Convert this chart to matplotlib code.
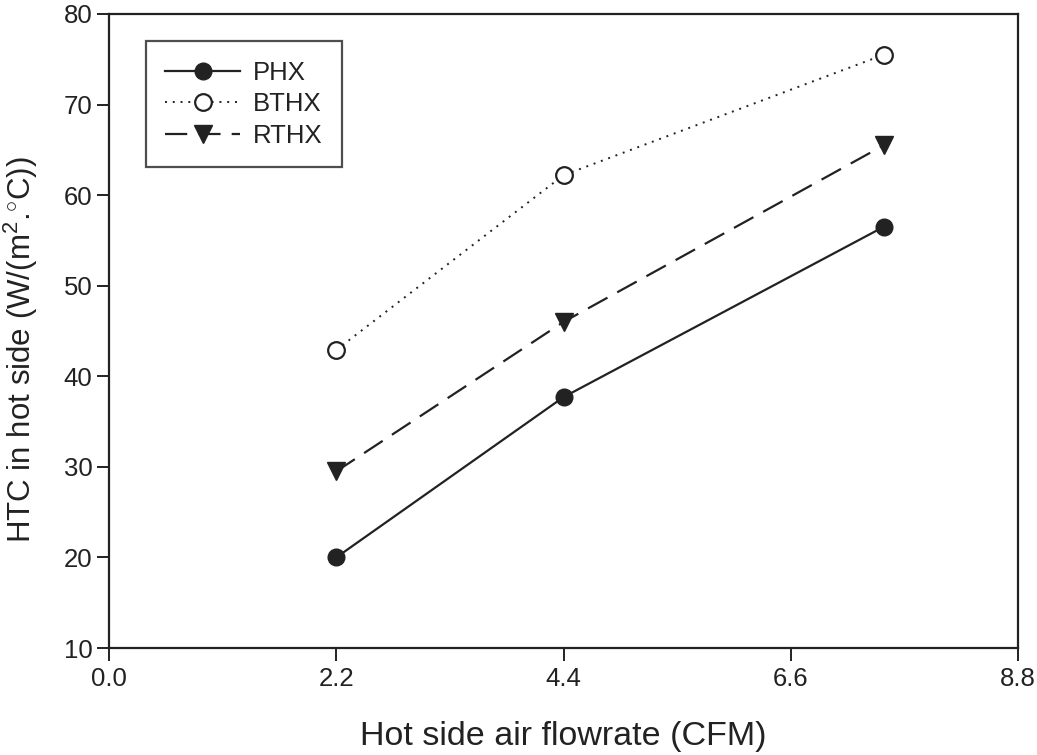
import matplotlib
matplotlib.use("Agg")
import matplotlib.pyplot as plt

# Hot side heat transfer coefficient vs. air flowrate
flowrate = [2.2, 4.4, 7.5]
phx = [20.0, 37.7, 56.5]
bthx = [42.9, 62.2, 75.5]
rthx = [29.5, 46.0, 65.5]

xticks = [0.0, 2.2, 4.4, 6.6, 8.8]
yticks = [10, 20, 30, 40, 50, 60, 70, 80]

plt.rcParams["font.family"] = ["Liberation Sans", "DejaVu Sans"]
plt.rcParams["mathtext.fontset"] = "custom"
plt.rcParams["mathtext.rm"] = "Liberation Sans"
plt.rcParams["mathtext.it"] = "Liberation Sans:italic"

fig = plt.figure(figsize=(10.37, 7.55), dpi=100)
ax = fig.add_axes([0.1051, 0.1417, 0.8766, 0.8398])

col = "#222222"
ax.plot(flowrate, phx, color=col, lw=1.6, ls="-", marker="o", ms=12,
        mfc=col, mec=col, label="PHX")
ax.plot(flowrate, bthx, color=col, lw=1.4, ls=(0, (1, 3)), marker="o", ms=12,
        mfc="white", mec=col, mew=1.6, label="BTHX")
ax.plot(flowrate, rthx, color=col, lw=1.6, ls=(0, (10, 5)), marker="v", ms=13,
        mfc=col, mec=col, label="RTHX")

ax.set_xlim(0, 8.8)
ax.set_ylim(10, 80)
ax.set_xticks(xticks)
ax.set_xticklabels([f"{v:.1f}" for v in xticks])
ax.set_yticks(yticks)
ax.tick_params(direction="out", length=9, width=1.4, labelsize=18.5, colors=col)
ax.tick_params(axis="x", pad=5)
ax.tick_params(axis="y", pad=3)
for s in ax.spines.values():
    s.set_linewidth(1.6)
    s.set_color(col)

ax.set_xlabel("Hot side air flowrate (CFM)", fontsize=24.5, color=col)
ax.xaxis.set_label_coords(0.5, -0.115)
ax.set_ylabel(r"HTC in hot side (W/(m$^2$.$^{\circ}$C))", fontsize=22.5, color=col)
ax.yaxis.set_label_coords(-0.076, 0.47)

leg = ax.legend(loc="upper left", bbox_to_anchor=(0.0407, 0.957), borderaxespad=0,
                fontsize=18.5, handlelength=2.9, frameon=True, fancybox=False,
                borderpad=0.75, labelspacing=0.3, handletextpad=0.5)
leg.get_frame().set_edgecolor(col)
leg.get_frame().set_linewidth(1.6)
for t in leg.get_texts():
    t.set_color(col)

fig.savefig("out.png", dpi=100, facecolor="white")
